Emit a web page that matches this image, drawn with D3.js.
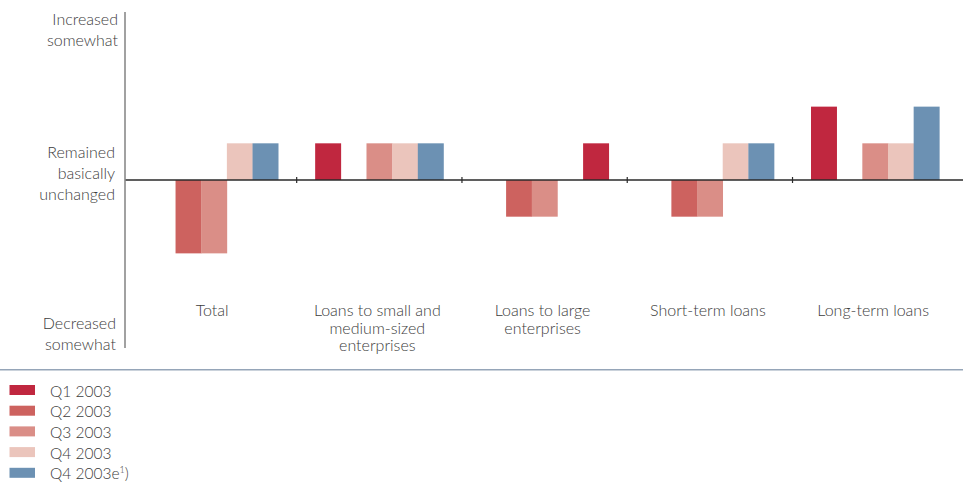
<!DOCTYPE html>
<html>
<head>
<meta charset="utf-8">
<script src="https://cdn.jsdelivr.net/npm/d3@7"></script>
<style>
  html, body { margin: 0; padding: 0; background: #fff; }
  svg text { font-family: Lato, "Open Sans", sans-serif; font-weight: 300; fill: #3c3c3c; }
</style>
</head>
<body>
<svg id="chart" width="963" height="486"></svg>
<script>
// Credit standards survey: direction of change by loan type
const categories = [
  ["Total"],
  ["Loans to small and", "medium-sized", "enterprises"],
  ["Loans to large", "enterprises"],
  ["Short-term loans"],
  ["Long-term loans"]
];
const seriesNames = ["Q1 2003", "Q2 2003", "Q3 2003", "Q4 2003", "Q4 2003e"];
// Scores: +1 = increased somewhat, 0 = remained basically unchanged, -1 = decreased somewhat
const q1 = [0, 0.5, 0, 0, 1];
const q2 = [-1, 0, -0.5, -0.5, 0];
const q3 = [-1, 0.5, -0.5, -0.5, 0.5];
const q4 = [0.5, 0.5, 0, 0.5, 0.5];
const q4e = [0.5, 0.5, 0.5, 0.5, 1];
const yTickLabels = [
  { v: 2.29, lines: ["Increased", "somewhat"] },
  { v: 0, lines: ["Remained", "basically", "unchanged"] },
  { v: -2.29, lines: ["Decreased", "somewhat"] }
];

const seriesColours = ["#c0273f", "#cd625f", "#da8e87", "#ebc5bc", "#6c91b3"];
// the expected value for large enterprises is printed in the Q1 red
const q4eColours = ["#6c91b3", "#6c91b3", "#c0273f", "#6c91b3", "#6c91b3"];

const allSeries = [q1, q2, q3, q4, q4e];

const svg = d3.select("#chart");
const axisX = 125;
const y = d3.scaleLinear().domain([-2.29, 2.29]).range([348, 12]);
const x0 = d3.scaleBand().domain(d3.range(categories.length)).range([131.4, 957.8]).padding(0);
const x1 = d3.scaleBand().domain(d3.range(seriesNames.length)).range([0, x0.bandwidth()])
  .paddingInner(0).paddingOuter(0.72);

// bars
const bars = [];
categories.forEach((c, ci) => {
  allSeries.forEach((s, si) => {
    if (s[ci] !== 0) {
      bars.push({ ci, si, v: s[ci], fill: si === 4 ? q4eColours[ci] : seriesColours[si] });
    }
  });
});
svg.append("g").selectAll("rect").data(bars).join("rect")
  .attr("x", d => x0(d.ci) + x1(d.si))
  .attr("width", x1.bandwidth() + 0.3)
  .attr("y", d => y(Math.max(0, d.v)))
  .attr("height", d => Math.abs(y(d.v) - y(0)))
  .attr("fill", d => d.fill);

// zero line with group separators
svg.append("line")
  .attr("x1", axisX).attr("x2", 963)
  .attr("y1", y(0)).attr("y2", y(0))
  .attr("stroke", "#2a2a2a").attr("stroke-width", 1.4);
svg.append("g").selectAll("line").data(d3.range(1, categories.length)).join("line")
  .attr("x1", d => x0(d)).attr("x2", d => x0(d))
  .attr("y1", y(0) - 3).attr("y2", y(0) + 3)
  .attr("stroke", "#2a2a2a").attr("stroke-width", 1.2);

// vertical axis
svg.append("line")
  .attr("x1", axisX).attr("x2", axisX)
  .attr("y1", y(2.29)).attr("y2", y(-2.29))
  .attr("stroke", "#8a8a8a").attr("stroke-width", 1.6);

// vertical axis labels
const yLab = svg.append("g").attr("font-size", 16).attr("text-anchor", "end");
yLab.append("text").attr("x", 118).attr("y", 25)
  .selectAll("tspan").data(yTickLabels[0].lines).join("tspan")
  .attr("x", 118).attr("dy", (d, i) => i ? 20.5 : 0).text(d => d);
yLab.append("text").attr("x", 115).attr("y", y(0) - 22)
  .selectAll("tspan").data(yTickLabels[1].lines).join("tspan")
  .attr("x", 115).attr("dy", (d, i) => i ? 21 : 0).text(d => d);
yLab.append("text").attr("x", 116).attr("y", 329)
  .selectAll("tspan").data(yTickLabels[2].lines).join("tspan")
  .attr("x", 116).attr("dy", (d, i) => i ? 20.5 : 0).text(d => d);

// category labels
svg.append("g").attr("font-size", 16).attr("text-anchor", "middle")
  .selectAll("text").data(categories).join("text")
  .attr("y", 316)
  .each(function (lines, i) {
    const cx = x0(i) + x0.bandwidth() / 2 - 2;
    d3.select(this).selectAll("tspan").data(lines).join("tspan")
      .attr("x", cx).attr("dy", (d, j) => j ? 17.5 : 0).text(d => d);
  });

// separator above legend
svg.append("line").attr("x1", 0).attr("x2", 963).attr("y1", 369.8).attr("y2", 369.8)
  .attr("stroke", "#95a5b8").attr("stroke-width", 1.6);

// legend
const legend = svg.append("g").selectAll("g").data(seriesNames).join("g")
  .attr("transform", (d, i) => `translate(0, ${385 + i * 20.7})`);
legend.append("rect").attr("x", 9.5).attr("y", 0).attr("width", 25.5).attr("height", 10)
  .attr("fill", (d, i) => seriesColours[i]);
const lt = legend.append("text").attr("x", 50).attr("y", 11.5).attr("font-size", 15.5);
lt.append("tspan").text(d => d);
lt.filter((d, i) => i === 4).each(function () {
  const t = d3.select(this);
  t.append("tspan").attr("font-size", 9).attr("dy", -6).text("1");
  t.append("tspan").attr("dy", 6).text(")");
});
</script>
</body>
</html>
